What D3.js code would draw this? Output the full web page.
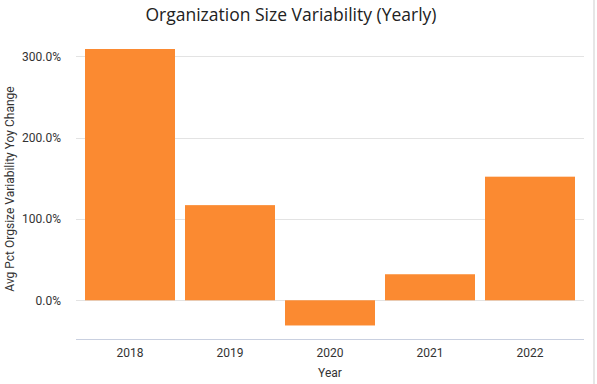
<!DOCTYPE html>
<html>
<head>
<meta charset="utf-8">
<script src="https://cdn.jsdelivr.net/npm/d3@7"></script>
<style>
  body { margin: 0; background: #fff; }
  svg { display: block; font-family: Roboto, "Open Sans", sans-serif; }
</style>
</head>
<body>
<svg id="canvas" width="597" height="384"></svg>
<script>
const years = ["2018", "2019", "2020", "2021", "2022"];
const changes = [309, 117, -31, 32, 152];
const yTicks = [0, 100, 200, 300];

const svg = d3.select("#canvas");
const plotLeft = 76, plotRight = 584, plotTop = 48.2, plotBottom = 339.3;

const x = d3.scaleBand()
  .domain(years)
  .range([80, 580])
  .paddingInner(0.1)
  .paddingOuter(0.05);

const y = d3.scaleLinear()
  .domain([-48, 310])
  .range([plotBottom, plotTop]);

// right edge border
svg.append("rect")
  .attr("x", 593)
  .attr("y", 0)
  .attr("width", 2)
  .attr("height", 384)
  .attr("fill", "#e6e6e6");

// gridlines
svg.selectAll(".grid")
  .data(yTicks)
  .enter()
  .append("line")
  .attr("class", "grid")
  .attr("x1", plotLeft)
  .attr("x2", plotRight)
  .attr("y1", (d) => Math.round(y(d)) + 0.5)
  .attr("y2", (d) => Math.round(y(d)) + 0.5)
  .attr("stroke", "#e3e3e3")
  .attr("stroke-width", 1);

// bars
svg.selectAll(".bar")
  .data(years)
  .enter()
  .append("rect")
  .attr("class", "bar")
  .attr("x", (d) => x(d))
  .attr("width", x.bandwidth())
  .attr("y", (d, i) => y(Math.max(0, changes[i])))
  .attr("height", (d, i) => Math.abs(y(changes[i]) - y(0)))
  .attr("fill", "#fb8a31");

// y axis
const yAxis = svg.append("g")
  .attr("transform", "translate(" + plotLeft + ",0)")
  .call(d3.axisLeft(y).tickValues(yTicks).tickSize(0).tickPadding(15)
    .tickFormat((d) => d3.format(".1f")(d) + "%"));
yAxis.select(".domain").remove();
yAxis.selectAll("text")
  .attr("font-size", 12)
  .attr("fill", "#333")
  .attr("font-family", "Roboto, sans-serif");

// x axis
const xAxis = svg.append("g")
  .attr("transform", "translate(0," + plotBottom + ")")
  .call(d3.axisBottom(x).tickSize(0).tickPadding(9));
xAxis.select(".domain").remove();
xAxis.selectAll("text")
  .attr("font-size", 12)
  .attr("fill", "#333")
  .attr("font-family", "Roboto, sans-serif");
svg.append("line")
  .attr("x1", plotLeft)
  .attr("x2", plotRight)
  .attr("y1", 339.5)
  .attr("y2", 339.5)
  .attr("stroke", "#c9d0e0")
  .attr("stroke-width", 1);

// axis titles
svg.append("text")
  .attr("x", 330)
  .attr("y", 377)
  .attr("text-anchor", "middle")
  .attr("font-size", 12)
  .attr("fill", "#333")
  .text("Year");

svg.append("text")
  .attr("transform", "translate(14,189) rotate(-90)")
  .attr("text-anchor", "middle")
  .attr("font-size", 12)
  .attr("fill", "#333")
  .text("Avg Pct Orgsize Variability Yoy Change");

// title
svg.append("text")
  .attr("x", 291)
  .attr("y", 21)
  .attr("text-anchor", "middle")
  .attr("font-size", 17.5)
  .attr("font-family", "'Open Sans', sans-serif")
  .attr("fill", "#222")
  .text("Organization Size Variability (Yearly)");
</script>
</body>
</html>
